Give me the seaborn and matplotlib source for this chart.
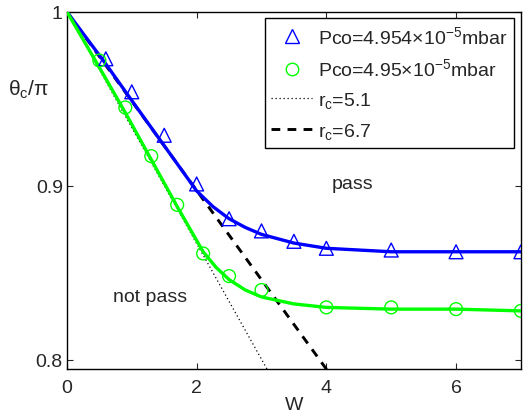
import numpy as np
import pandas as pd
import seaborn as sns
import matplotlib.pyplot as plt
from matplotlib.lines import Line2D

# values
blue_w = [0.6, 1.0, 1.5, 2.0, 2.5, 3.0, 3.5, 4.0, 5.0, 6.0, 7.0]
blue_t = [0.973, 0.954, 0.929, 0.901, 0.881, 0.874, 0.868, 0.864, 0.863, 0.862, 0.862]
green_w = [0.5, 0.9, 1.3, 1.7, 2.1, 2.5, 3.0, 4.0, 5.0, 6.0, 7.0]
green_t = [0.972, 0.945, 0.917, 0.889, 0.861, 0.848, 0.840, 0.830, 0.830, 0.829, 0.828]

# smooth curves (start at W=0)
blue_line_w = [0.0, 0.6, 1.0, 1.5, 2.0, 2.25, 2.5, 2.75, 3.0, 3.5, 4.0, 5.0, 6.0, 7.0]
blue_line_t = [1.0, 0.970, 0.949, 0.923, 0.897, 0.888, 0.881, 0.876, 0.872, 0.867, 0.864, 0.862, 0.862, 0.862]
green_line_w = [0.0, 0.5, 0.9, 1.3, 1.7, 2.1, 2.3, 2.5, 2.75, 3.0, 3.5, 4.0, 5.0, 6.0, 7.0]
green_line_t = [1.0, 0.968, 0.942, 0.915, 0.888, 0.862, 0.853, 0.846, 0.840, 0.836, 0.832, 0.830, 0.829, 0.829, 0.828]

# straight r_c lines
rc51_w = [0.0, 3.1]
rc51_t = [1.0, 0.7935]
rc67_w = [0.0, 4.02]
rc67_t = [1.0, 0.7935]

labels = ['Pco=4.954$\\times$10$^{-5}$mbar', 'Pco=4.95$\\times$10$^{-5}$mbar',
          'r$_c$=5.1', 'r$_c$=6.7']

sns.set_style('ticks')
plt.rcParams['font.family'] = ['Liberation Sans', 'DejaVu Sans']
plt.rcParams['mathtext.default'] = 'regular'
plt.rcParams['xtick.direction'] = 'in'
plt.rcParams['ytick.direction'] = 'in'

fs = 14

fig = plt.figure(figsize=(5.23, 4.14), dpi=100)
ax = fig.add_axes([0.128, 0.106, 0.868, 0.863])

blue = '#0000ff'
green = '#00ff00'

sns.lineplot(x=rc51_w, y=rc51_t, ax=ax, color='black', lw=0.9,
             linestyle=(0, (1, 2.2)), zorder=2)
sns.lineplot(x=rc67_w, y=rc67_t, ax=ax, color='black', lw=2.1,
             linestyle=(0, (3, 2.5)), zorder=2)
sns.lineplot(x=blue_line_w, y=blue_line_t, ax=ax, color=blue, lw=2.4, zorder=3)
sns.lineplot(x=green_line_w, y=green_line_t, ax=ax, color=green, lw=2.4, zorder=3)
sns.scatterplot(x=blue_w, y=blue_t, ax=ax, marker='^', s=100, facecolor='none',
                edgecolor=blue, linewidth=1.0, zorder=4)
sns.scatterplot(x=green_w, y=green_t, ax=ax, marker='o', s=85, facecolor='none',
                edgecolor=green, linewidth=1.0, zorder=4)

ax.set_xlim(0, 7)
ax.set_ylim(0.7945, 1.0)
ax.set_xticks([0, 2, 4, 6])
ax.set_yticks([0.8, 0.9, 1.0])
ax.set_yticklabels(['0.8', '0.9', '1'])
ax.tick_params(labelsize=fs, length=4, width=0.8, top=True, right=True)
ax.tick_params(axis='x', pad=7)
ax.tick_params(axis='y', pad=3)
for s in ax.spines.values():
    s.set_visible(True)
    s.set_linewidth(1.0)
    s.set_color('black')

ax.set_xlabel('W', fontsize=fs, labelpad=0)
ax.set_ylabel('$\\theta_c$/$\\pi$', fontsize=fs + 1, rotation=0, va='center', ha='center')
ax.yaxis.set_label_coords(-0.085, 0.785)

ax.text(4.4, 0.901, 'pass', fontsize=fs, ha='center', va='center')
ax.text(1.28, 0.836, 'not pass', fontsize=fs, ha='center', va='center')

handles = [
    Line2D([], [], linestyle='', marker='^', markersize=10, markerfacecolor='none',
           markeredgecolor=blue, markeredgewidth=1.0),
    Line2D([], [], linestyle='', marker='o', markersize=9, markerfacecolor='none',
           markeredgecolor=green, markeredgewidth=1.0),
    Line2D([], [], color='black', lw=0.9, linestyle=(0, (1, 2.2))),
    Line2D([], [], color='black', lw=2.1, linestyle=(0, (3, 2.5))),
]
leg = ax.legend(handles, labels, loc='upper right', bbox_to_anchor=(0.985, 0.982),
                fontsize=fs, frameon=True, fancybox=False, edgecolor='black',
                framealpha=1, handlelength=2.1, handletextpad=0.3,
                labelspacing=0.55, borderpad=0.35, borderaxespad=0)
leg.get_frame().set_linewidth(1.0)

fig.savefig('out.png', dpi=100)
